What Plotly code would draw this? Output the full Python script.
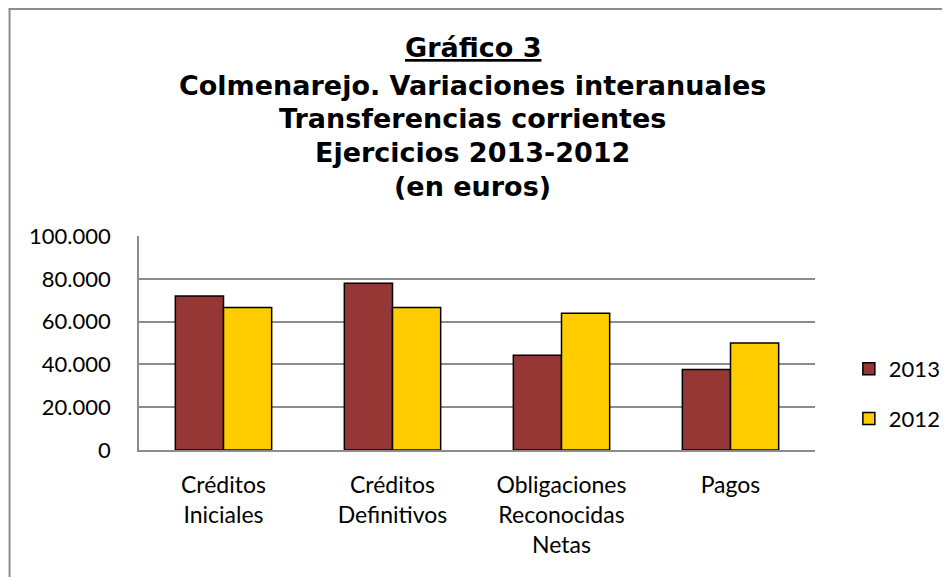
import plotly.graph_objects as go

categories = ["Créditos<br>Iniciales", "Créditos<br>Definitivos", "Obligaciones<br>Reconocidas<br>Netas", "Pagos"]
values_2013 = [72000, 77900, 44300, 37600]
values_2012 = [66600, 66600, 63900, 50000]
tick_vals = [0, 20000, 40000, 60000, 80000, 100000]
tick_text = ["0", "20.000", "40.000", "60.000", "80.000", "100.000"]
title_lines = ["<u>Gráfico 3</u>", "Colmenarejo. Variaciones interanuales",
               "Transferencias corrientes", "Ejercicios 2013-2012", "(en euros)"]

OFF = 8  # page body margin
W, H = 950, 577
# plot area in page pixels: x 139..818, y 236..450
L = 139 - OFF
T = 236 - OFF
R = W - (818 - OFF)
B = H - (450 - OFF)
pw, ph = W - L - R, H - T - B

def px_x(px):
    return (px - OFF - L) / pw

def px_y(py):
    return (H - B - (py - OFF)) / ph

fig = go.Figure()
fig.add_trace(go.Bar(name="2013", x=categories, y=values_2013,
                     marker=dict(color="#953735", line=dict(color="black", width=1.5)),
                     legendgroup="a"))
fig.add_trace(go.Bar(name="2012", x=categories, y=values_2012,
                     marker=dict(color="#FFCC00", line=dict(color="black", width=1.5)),
                     legendgroup="b"))

title_y = [47, 85, 118, 152, 186]
anns = []
for txt, yy in zip(title_lines, title_y):
    anns.append(dict(text="<b>" + txt + "</b>", x=px_x(474), y=px_y(yy), xref="paper", yref="paper",
                     showarrow=False, xanchor="center", yanchor="middle",
                     font=dict(family="DejaVu Sans", size=27, color="black")))

shapes = [
    dict(type="line", xref="paper", yref="paper", x0=px_x(8), x1=px_x(960), y0=px_y(9), y1=px_y(9),
         line=dict(color="#8c8c8c", width=2)),
    dict(type="line", xref="paper", yref="paper", x0=px_x(9), x1=px_x(9), y0=px_y(9), y1=px_y(600),
         line=dict(color="#8c8c8c", width=2)),
]

fig.update_layout(
    width=W, height=H,
    margin=dict(l=L, r=R, t=T, b=B),
    paper_bgcolor="white", plot_bgcolor="white",
    barmode="group", bargap=0.43, bargroupgap=0,
    font=dict(family="Lato", size=22, color="black"),
    annotations=anns, shapes=shapes,
    legend=dict(x=px_x(852), y=px_y(394), xanchor="left", yanchor="middle",
                font=dict(family="Lato", size=22), tracegroupgap=18,
                bgcolor="rgba(0,0,0,0)"),
    showlegend=True,
)
fig.update_yaxes(range=[0, 100000], tickvals=tick_vals, ticktext=tick_text,
                 showgrid=True, gridcolor="#8c8c8c", gridwidth=1.5,
                 showline=True, linecolor="#8c8c8c", linewidth=1.5,
                 ticks="", ticklabelstandoff=22, zeroline=False,
                 tickfont=dict(family="Lato", size=22))
fig.update_xaxes(showline=True, linecolor="#8c8c8c", linewidth=1.5, ticks="",
                 tickfont=dict(family="Lato", size=23), ticklabelstandoff=14)

fig.write_html("out.html")
